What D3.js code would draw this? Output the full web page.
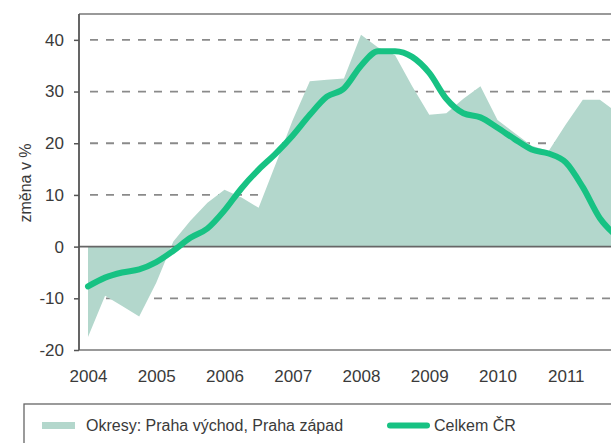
<!DOCTYPE html>
<html><head><meta charset="utf-8">
<script src="https://cdn.jsdelivr.net/npm/d3@7"></script>
<style>body{margin:0;background:#fff}svg{display:block}</style>
</head><body>
<svg id="c" width="611" height="443"></svg>
<script>
// quarterly data, 2004 Q1 .. 2011 Q4
const quarters = d3.range(32).map(i => 2004 + i / 4);
const okresy = [-17.5, -9.5, -11.5, -13.5, -7, 1, 5, 8.5,
                11, 9.5, 7.5, 16, 24.5, 32, 32.3, 32.5,
                41, 38.5, 37, 31, 25.5, 25.8, 28.6, 31,
                24.5, 22, 19.5, 18.5, 23.6, 28.4, 28.4, 26];
const celkem = [-7.7, -6.0, -5.0, -4.4, -3.0, -0.8, 1.7, 3.5,
                7.0, 11.3, 14.9, 18.0, 21.5, 25.5, 29.0, 30.6,
                35.0, 37.8, 37.8, 36.7, 33.6, 28.6, 25.8, 25.0,
                23.0, 20.8, 18.8, 18.0, 16.3, 11.5, 5.5, 2.0];
const yTicks = [-20, -10, 0, 10, 20, 30, 40];
const gridValues = [-10, 10, 20, 30, 40];
const xTickLabels = ["2004","2005","2006","2007","2008","2009","2010","2011"];
const seriesNames = ["Okresy: Praha východ, Praha západ", "Celkem ČR"];

const svg = d3.select("#c");
const font = "'Liberation Sans', Arial, sans-serif";
const x = d3.scaleLinear().domain([2003.868, 2012]).range([79, 634]);
const y = d3.scaleLinear().domain([-20, 45]).range([350, 14]);
const L = 79, R = 640;

// top border
svg.append("line").attr("x1", L).attr("x2", R).attr("y1", y(45)).attr("y2", y(45))
  .attr("stroke", "#777").attr("stroke-width", 1.5);

// dashed grid
svg.append("g").selectAll("line").data(gridValues).join("line")
  .attr("x1", L + 11).attr("x2", R).attr("y1", d => y(d)).attr("y2", d => y(d))
  .attr("stroke", "#8a8a8a").attr("stroke-width", 1.8).attr("stroke-dasharray", "8,8");

// area
const data = quarters.map((q, i) => ({q, a: okresy[i], c: celkem[i]}));
svg.append("path").datum(data)
  .attr("fill", "#b3d7cc")
  .attr("d", d3.area().x(d => x(d.q)).y0(y(0)).y1(d => y(d.a)));

// zero line
svg.append("line").attr("x1", L).attr("x2", R).attr("y1", y(0)).attr("y2", y(0))
  .attr("stroke", "#666").attr("stroke-width", 1.8);

// bottom axis line
svg.append("line").attr("x1", L).attr("x2", R).attr("y1", y(-20)).attr("y2", y(-20))
  .attr("stroke", "#777").attr("stroke-width", 1.5);

// y axis
const ya = svg.append("g").attr("transform", `translate(${L},0)`)
  .call(d3.axisLeft(y).tickValues(yTicks).tickSize(5).tickPadding(10).tickFormat(d => String(d)));
ya.select(".domain").attr("d", `M0,${y(45)}V${y(-20)}`).attr("stroke", "#555").attr("stroke-width", 1.8);
ya.selectAll(".tick line").attr("stroke", "#555").attr("stroke-width", 1.5);
ya.selectAll("text").attr("font-family", font).attr("font-size", 17).attr("fill", "#3a3a3a");

// x axis labels
const xa = svg.append("g").attr("transform", `translate(0,${y(-20)})`)
  .call(d3.axisBottom(x).tickValues(xTickLabels.map(Number)).tickSize(0).tickPadding(20).tickFormat(d => String(d)));
xa.select(".domain").remove();
xa.selectAll("text").attr("font-family", font).attr("font-size", 17).attr("fill", "#3a3a3a");

// line
svg.append("path").datum(data)
  .attr("fill", "none").attr("stroke", "#17c283").attr("stroke-width", 6)
  .attr("stroke-linejoin", "round").attr("stroke-linecap", "round")
  .attr("d", d3.line().x(d => x(d.q)).y(d => y(d.c)).curve(d3.curveMonotoneX));

// y label
svg.append("text").attr("transform", "translate(31,183) rotate(-90)")
  .attr("text-anchor", "middle").attr("font-family", font).attr("font-size", 16)
  .attr("fill", "#3a3a3a").text("změna v %");

// legend
svg.append("rect").attr("x", 24).attr("y", 404).attr("width", 620).attr("height", 60)
  .attr("fill", "none").attr("stroke", "#666").attr("stroke-width", 1.3);
svg.append("rect").attr("x", 42).attr("y", 422).attr("width", 33).attr("height", 7).attr("fill", "#b3d7cc");
svg.append("text").attr("x", 86).attr("y", 431).attr("font-family", font).attr("font-size", 16)
  .attr("fill", "#3a3a3a").text(seriesNames[0]);
svg.append("line").attr("x1", 390).attr("x2", 427).attr("y1", 425.5).attr("y2", 425.5)
  .attr("stroke", "#17c283").attr("stroke-width", 6).attr("stroke-linecap", "round");
svg.append("text").attr("x", 434).attr("y", 431).attr("font-family", font).attr("font-size", 16)
  .attr("fill", "#3a3a3a").text(seriesNames[1]);
</script>
</body></html>
